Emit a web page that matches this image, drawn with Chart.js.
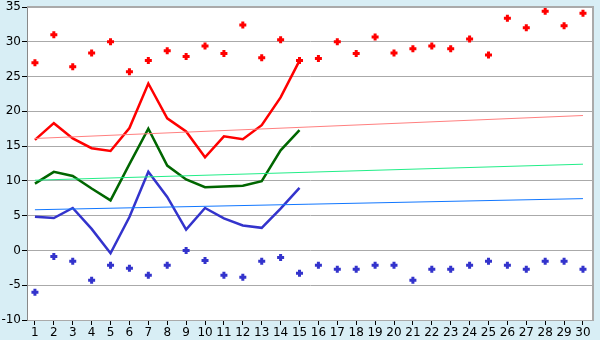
<!DOCTYPE html>
<html>
<head>
<meta charset="utf-8">
<script src="https://cdn.jsdelivr.net/npm/chart.js@4"></script>
<style>
  html, body { margin: 0; padding: 0; background: #d8eef5; }
  #wrap { width: 600px; height: 340px; }
</style>
</head>
<body>
<div id="wrap"><canvas id="chart" width="600" height="340"></canvas></div>
<script>
const days = [1, 2, 3, 4, 5, 6, 7, 8, 9, 10, 11, 12, 13, 14, 15, 16, 17, 18, 19, 20, 21, 22, 23, 24, 25, 26, 27, 28, 29, 30];
const yTicks = [-10, -5, 0, 5, 10, 15, 20, 25, 30, 35];

// measured lines (days 1-15)
const maxLine = [15.9, 18.3, 16.1, 14.7, 14.3, 17.6, 24.0, 19.0, 17.1, 13.4, 16.4, 16.0, 18.0, 22.0, 27.3];
const avgLine = [9.6, 11.3, 10.7, 8.9, 7.2, 12.4, 17.5, 12.2, 10.2, 9.1, 9.2, 9.3, 9.95, 14.4, 17.3];
const minLine = [4.85, 4.66, 6.1, 3.1, -0.4, 4.8, 11.3, 7.7, 3.0, 6.1, 4.6, 3.6, 3.25, 6.0, 9.0];

// record highs / lows (days 1-30)
const maxRecord = [27.0, 31.0, 26.4, 28.4, 30.0, 25.7, 27.3, 28.7, 27.9, 29.4, 28.3, 32.4, 27.7, 30.3, 27.3,
                   27.6, 30.0, 28.3, 30.7, 28.4, 29.0, 29.4, 29.0, 30.4, 28.1, 33.4, 32.0, 34.4, 32.3, 34.1];
const minRecord = [-6.0, -0.86, -1.57, -4.3, -2.14, -2.57, -3.57, -2.14, 0.0, -1.43, -3.57, -3.86, -1.57, -1.0, -3.29,
                   -2.14, -2.71, -2.71, -2.14, -2.14, -4.29, -2.71, -2.71, -2.14, -1.57, -2.14, -2.71, -1.57, -1.57, -2.71];

// trend lines, end points read at day 1 and day 30
const trendDays = [1, 30];
const maxTrend = [16.1, 19.4];
const avgTrend = [10.1, 12.4];
const minTrend = [5.85, 7.45];

const pts = (xs, ys) => ys.map((v, i) => ({ x: xs[i], y: v }));

const frame = {
    id: 'frame',
    beforeDraw(chart) {
        const { ctx, chartArea: a } = chart;
        ctx.save();
        ctx.fillStyle = '#d8eef5';
        ctx.fillRect(0, 0, chart.width, chart.height);
        ctx.fillStyle = '#ffffff';
        ctx.fillRect(a.left, a.top, a.right - a.left, a.bottom - a.top);
        ctx.restore();
    },
    afterDatasetsDraw(chart) {
        const { ctx, chartArea: a } = chart;
        ctx.save();
        ctx.strokeStyle = '#aaaaaa';
        ctx.lineWidth = 2;
        ctx.beginPath();
        ctx.moveTo(a.left, a.top);
        ctx.lineTo(a.right, a.top);
        ctx.lineTo(a.right, a.bottom);
        ctx.stroke();
        ctx.restore();
    }
};

function lineSet(data, color, width) {
    return {
        type: 'line',
        data: data,
        borderColor: color,
        borderWidth: width,
        pointRadius: 0,
        fill: false,
        tension: 0,
    };
}

function dotSet(data, color) {
    return {
        type: 'scatter',
        data: data,
        pointStyle: 'cross',
        pointRadius: 3.5,
        borderWidth: 3,
        borderColor: color,
        backgroundColor: color,
    };
}

const ctx = document.querySelector('#chart').getContext('2d');
new Chart(ctx, {
    type: 'line',
    data: {
        datasets: [
            lineSet(pts(trendDays, maxTrend), '#ff8080', 1),
            lineSet(pts(trendDays, avgTrend), '#22ee88', 1),
            lineSet(pts(trendDays, minTrend), '#1177ff', 1),
            lineSet(pts(days, maxLine), '#ff0000', 2.5),
            lineSet(pts(days, avgLine), '#006600', 2.5),
            lineSet(pts(days, minLine), '#3333cc', 2.5),
            dotSet(pts(days, maxRecord), '#ff0000'),
            dotSet(pts(days, minRecord), '#3333cc'),
        ],
    },
    options: {
        responsive: false,
        animation: false,
        layout: { padding: { top: 5, right: 5, left: 0, bottom: 0 } },
        plugins: {
            legend: { display: false },
            tooltip: { enabled: false },
        },
        scales: {
            x: {
                type: 'linear',
                min: 0.58,
                max: 30.53,
                afterBuildTicks: s => { s.ticks = days.map(v => ({ value: v })); },
                afterFit: s => { s.height = 20; s.paddingLeft = 0; s.paddingRight = 0; },
                grid: { drawOnChartArea: false, tickLength: 5, color: '#000000' },
                border: { color: '#aaaaaa', width: 1 },
                ticks: {
                    autoSkip: false,
                    maxRotation: 0,
                    padding: 1,
                    color: '#000000',
                    font: { family: 'DejaVu Sans', size: 12 },
                },
            },
            y: {
                min: -10,
                max: 35,
                afterBuildTicks: s => { s.ticks = yTicks.map(v => ({ value: v })); },
                afterFit: s => { s.width = 27; s.paddingTop = 0; s.paddingBottom = 0; },
                grid: { color: '#aaaaaa', tickColor: '#000000', tickLength: 5 },
                border: { color: '#888888', width: 1 },
                ticks: {
                    padding: 1,
                    color: '#000000',
                    font: { family: 'DejaVu Sans', size: 12 },
                },
            },
        },
    },
    plugins: [frame],
});
</script>
</body>
</html>
